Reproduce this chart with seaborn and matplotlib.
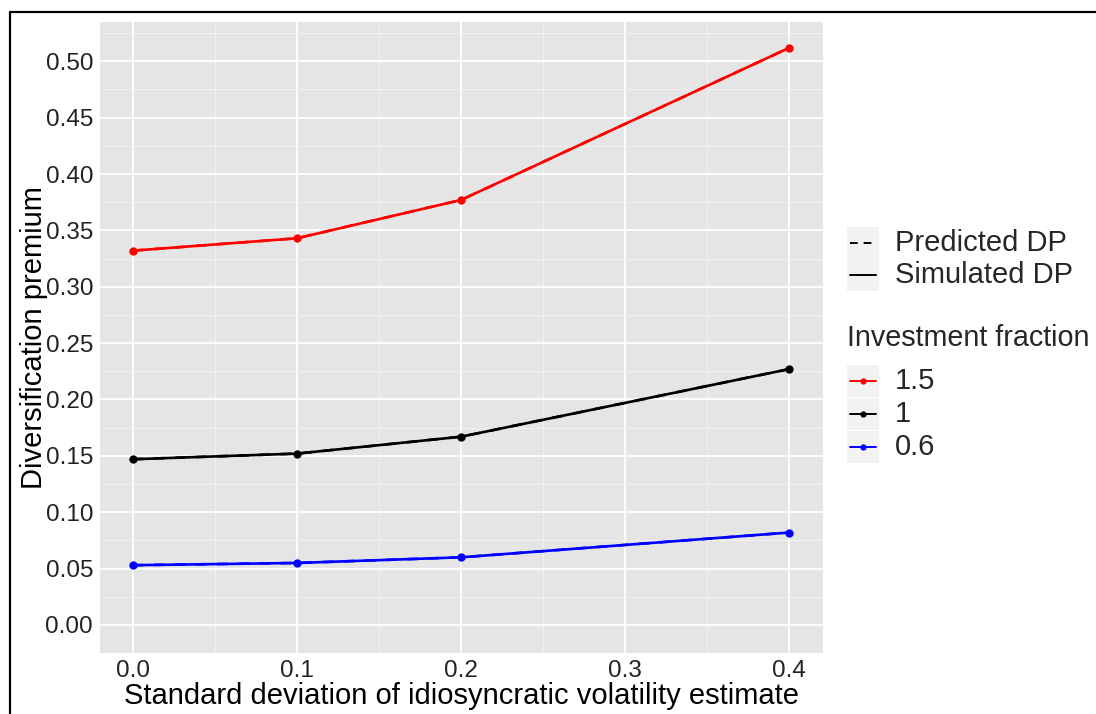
import numpy as np
import pandas as pd
import matplotlib
matplotlib.use("Agg")
import matplotlib.pyplot as plt
from matplotlib.lines import Line2D
from matplotlib.patches import Rectangle
import seaborn as sns

# Standard deviation of the idiosyncratic volatility estimate
sd_estimate = [0.0, 0.1, 0.2, 0.4]

# Diversification premium by investment fraction
simulated_15 = [0.332, 0.343, 0.377, 0.512]
simulated_10 = [0.147, 0.152, 0.167, 0.227]
simulated_06 = [0.053, 0.055, 0.060, 0.082]
predicted_15 = [0.332, 0.343, 0.377, 0.512]
predicted_10 = [0.147, 0.152, 0.167, 0.227]
predicted_06 = [0.053, 0.055, 0.060, 0.082]

fractions = ["1.5", "1", "0.6"]
fraction_colors = ["#FF0000", "#000000", "#0000FF"]
line_types = ["Predicted DP", "Simulated DP"]

y_ticks = [0.00, 0.05, 0.10, 0.15, 0.20, 0.25, 0.30, 0.35, 0.40, 0.45, 0.50]
x_ticks = [0.0, 0.1, 0.2, 0.3, 0.4]

rows = []
for frac, sim, pred in zip(fractions,
                           [simulated_15, simulated_10, simulated_06],
                           [predicted_15, predicted_10, predicted_06]):
    for x, s, p in zip(sd_estimate, sim, pred):
        rows.append({"sd": x, "dp": s, "fraction": frac, "type": "Simulated DP"})
        rows.append({"sd": x, "dp": p, "fraction": frac, "type": "Predicted DP"})
df = pd.DataFrame(rows)

sns.set_style("white")
plt.rcParams["font.family"] = ["Liberation Sans", "DejaVu Sans"]

W, H = 1096, 714
fig = plt.figure(figsize=(W / 100, H / 100), dpi=100)

def fx(px):
    return px / W

def fy(py):
    return 1 - py / H

# panel in pixel coordinates
pl, pt, pr, pb = 100, 21.7, 822.7, 652.7
ax = fig.add_axes([fx(pl), fy(pb), fx(pr - pl), (pb - pt) / H])
ax.set_facecolor("#E5E5E5")
for s in ax.spines.values():
    s.set_visible(False)

palette = dict(zip(fractions, fraction_colors))
sim = df[df["type"] == "Simulated DP"]
pred = df[df["type"] == "Predicted DP"]
sns.lineplot(data=sim, x="sd", y="dp", hue="fraction", hue_order=fractions,
             palette=palette, marker="o", markersize=6, markeredgewidth=0,
             linewidth=1.9, legend=False, ax=ax, zorder=3)
sns.lineplot(data=pred, x="sd", y="dp", hue="fraction", hue_order=fractions,
             palette=palette, linewidth=1.9, legend=False, ax=ax, zorder=4)
for ln in ax.get_lines()[len(fractions):]:
    ln.set_dashes((4, 4))

ax.set_xlim(-0.02, 0.4203)
ax.set_ylim(-0.0246, 0.5351)
ax.set_xticks(x_ticks)
ax.set_xticklabels([f"{v:.1f}" for v in x_ticks])
ax.set_yticks(y_ticks)
ax.set_yticklabels([f"{v:.2f}" for v in y_ticks])
ax.set_xticks([0.05, 0.15, 0.25, 0.35], minor=True)
ax.set_yticks([0.025, 0.075, 0.125, 0.175, 0.225, 0.275, 0.325, 0.375,
               0.425, 0.475, 0.525], minor=True)
ax.grid(which="major", color="white", linewidth=1.3, zorder=0)
ax.grid(which="minor", color="#F2F2F2", linewidth=0.7, zorder=0)
ax.set_axisbelow(True)
ax.tick_params(which="major", length=3.5, width=0.9, color="#333333",
               labelsize=17.5, labelcolor="#222222", pad=1.5)
ax.tick_params(which="minor", length=0)
ax.set_xlabel("Standard deviation of idiosyncratic volatility estimate",
              fontsize=21, color="black", labelpad=0)
ax.set_ylabel("Diversification premium", fontsize=21, color="black", labelpad=-1.5)

# outer frame
fig.add_artist(Line2D([fx(10), 1.0], [fy(12), fy(12)], color="black",
                      linewidth=1.6, transform=fig.transFigure))
fig.add_artist(Line2D([fx(10), fx(10)], [fy(12), 0.0], color="black",
                      linewidth=1.6, transform=fig.transFigure))

# legends
key_x0, key_w, key_h = 847, 32, 32
text_x = 895

def key_box(cy):
    fig.add_artist(Rectangle((fx(key_x0), fy(cy + key_h / 2)), fx(key_w), key_h / H,
                             facecolor="#F2F2F2", edgecolor="none",
                             transform=fig.transFigure))

for label, cy, style in zip(line_types, [243, 275], [(0, (4, 3)), "-"]):
    key_box(cy)
    fig.add_artist(Line2D([fx(key_x0 + 3), fx(key_x0 + key_w - 3)], [fy(cy), fy(cy)],
                          color="black", linewidth=1.4, linestyle=style,
                          transform=fig.transFigure))
    fig.text(fx(text_x), fy(cy), label, fontsize=21, va="center", ha="left")

fig.text(fx(key_x0), fy(338), "Investment fraction", fontsize=20.7, va="center", ha="left")
for label, color, cy in zip(fractions, fraction_colors, [381, 414, 447]):
    key_box(cy)
    fig.add_artist(Line2D([fx(key_x0 + 3), fx(key_x0 + key_w - 3)], [fy(cy), fy(cy)],
                          color=color, linewidth=1.4, transform=fig.transFigure))
    fig.add_artist(Line2D([fx(key_x0 + key_w / 2)], [fy(cy)], color=color,
                          marker="o", markersize=4.5, markeredgewidth=0,
                          linestyle="none", transform=fig.transFigure))
    fig.text(fx(text_x), fy(cy), label, fontsize=21, va="center", ha="left")

fig.savefig("out.png", dpi=100, facecolor="white")
